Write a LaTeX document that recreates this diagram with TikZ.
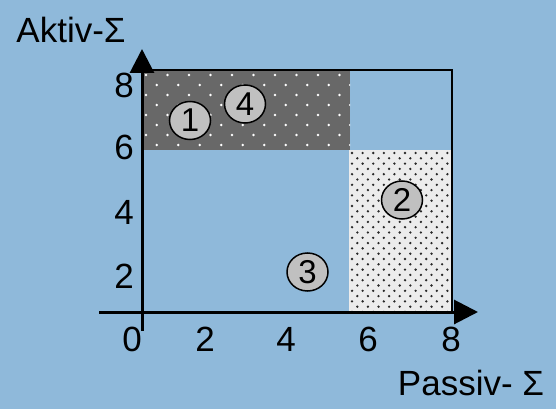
\documentclass[tikz,border=0pt]{standalone}
\usepackage{fontspec}
\setmainfont{Liberation Sans}
\usetikzlibrary{arrows.meta,shapes.geometric}
\definecolor{bg}{RGB}{143,185,218}
\definecolor{darkfill}{RGB}{104,104,104}
\definecolor{lightfill}{RGB}{236,236,236}
\definecolor{circfill}{RGB}{192,192,192}
\definecolor{dotc}{RGB}{40,40,40}
\begin{document}
\begin{tikzpicture}[x=1pt,y=-1pt,
  lbl/.style={font=\fontsize{35}{40}\selectfont, inner sep=0pt, anchor=center},
  num/.style={ellipse, draw=black, line width=1.5pt, fill=circfill,
    minimum width=41pt, minimum height=38pt, inner sep=0pt,
    font=\fontsize{33}{38}\selectfont},
  axis/.style={line width=3pt, -{Triangle[length=24pt,width=24pt]}},
  frameline/.style={line width=2.5pt}]
\fill[bg] (0,0) rectangle (556,409);
\useasboundingbox (0,0) rectangle (556,409);
% dark region
\fill[darkfill] (143,70) rectangle (350,150);
\begin{scope}
  \clip (143,70) rectangle (350,150);
  \foreach \j in {0,...,8}
    \foreach \i in {0,...,10}
      \fill[white] ({146+21.5*\i+10.75*mod(\j,2)},{75+10*\j}) circle (1.4);
\end{scope}
% light dotted region
\fill[lightfill] (349,150) rectangle (452,311);
\begin{scope}
  \clip (349,150) rectangle (452,311);
  \foreach \j in {0,...,31}
    \foreach \i in {0,...,10}
      \fill[dotc] ({352+10.6*\i+5.3*mod(\j,2)},{153+5.3*\j}) circle (1.3);
\end{scope}
% frame
\coordinate (TL) at (143,70);
\coordinate (TR) at (452,70);
\coordinate (BR) at (452,311);
\draw[frameline] (TL) -- (TR) -- (BR);
% axes
\coordinate (xs) at (99,312);
\coordinate (xe) at (478,312);
\coordinate (ys) at (142,331);
\coordinate (ye) at (142,49);
\draw[axis] (xs) -- (xe);
\draw[axis] (ys) -- (ye);
% tick labels
\node[lbl] (y8) at (124,85) {8};
\node[lbl] (y6) at (124,147) {6};
\node[lbl] (y4) at (124,212) {4};
\node[lbl] (y2) at (124,276) {2};
\node[lbl] (x0) at (132,339.5) {0};
\node[lbl] (x2) at (205,339.5) {2};
\node[lbl] (x4) at (286,339.5) {4};
\node[lbl] (x6) at (368,339.5) {6};
\node[lbl] (x8) at (451,339.5) {8};
% axis titles
\node[lbl] (ytitle) at (71,30) {Aktiv-Σ};
\node[lbl] (xtitle) at (471,383) {Passiv- Σ};
% circled numbers
\node[num] (c1) at (190,120.5) {1};
\node[num] (c4) at (245,104) {4};
\node[num] (c2) at (402,200) {2};
\node[num] (c3) at (307.5,272) {3};
\end{tikzpicture}
\end{document}
